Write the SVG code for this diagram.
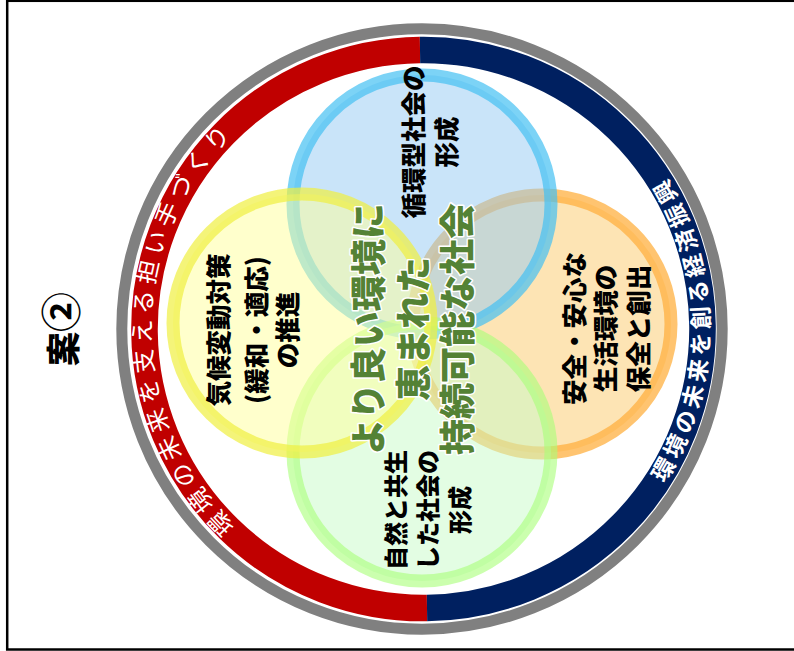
<svg xmlns="http://www.w3.org/2000/svg" width="794" height="651" viewBox="0 0 794 651">
<style>
.t{font-family:"Noto Sans CJK JP","Noto Sans CJK SC",sans-serif;font-weight:900;fill:#000;text-anchor:middle}
.ring{font-family:"Noto Sans CJK JP","Noto Sans CJK SC",sans-serif;fill:#fff}
.main{font-family:"Noto Sans CJK JP","Noto Sans CJK SC",sans-serif;font-weight:900;font-size:36px;fill:#548235;stroke:#fff;stroke-width:3;paint-order:stroke;stroke-linejoin:round;text-anchor:middle}
</style>
<defs>
<path id="redArc" d="M 422 600 A 271 271 0 0 1 422 58"/>
<path id="navyArc" d="M 422 616.5 A 287.5 287.5 0 0 0 422 41.5"/>
</defs>
<rect x="7.2" y="0.8" width="800" height="648.7" fill="#fff" stroke="#000" stroke-width="2.5"/>
<g id="label">
<text class="t" font-size="34" transform="translate(63,329) rotate(-90)" x="0" y="13">案<tspan font-size="40" font-weight="bold">②</tspan></text>
</g>
<g id="outer-ring">
<circle cx="422" cy="329" r="300.2" fill="none" stroke="#808080" stroke-width="11"/>
<path d="M 427 608 A 279 279 0 1 1 420 50" fill="none" stroke="#c00000" stroke-width="26.6"/>
<path d="M 420 50 A 279 279 0 0 1 427 608" fill="none" stroke="#002060" stroke-width="26.6"/>
<text class="ring" font-size="24" letter-spacing="5.4" text-anchor="middle"><textPath href="#redArc" startOffset="50%">環境の未来を支える担い手づくり</textPath></text>
<text class="ring" font-size="23" font-weight="bold" letter-spacing="4.2" text-anchor="middle"><textPath href="#navyArc" startOffset="50%">環境の未来を創る経済振興</textPath></text>
</g>
<g id="circle-orange">
<circle cx="542" cy="324" r="129" fill="#fbc96a" fill-opacity="0.5" stroke="#ffb040" stroke-opacity="0.75" stroke-width="13"/>
</g>
<g id="circle-blue">
<circle cx="422" cy="204" r="129" fill="#93c9f3" fill-opacity="0.5" stroke="#45c0f2" stroke-opacity="0.7" stroke-width="13"/>
</g>
<g id="circle-green">
<circle cx="422" cy="452" r="129" fill="#c7fbc7" fill-opacity="0.5" stroke="#a8ff78" stroke-opacity="0.6" stroke-width="13"/>
</g>
<g id="circle-yellow">
<circle cx="302" cy="323" r="129" fill="#ffff99" fill-opacity="0.5" stroke="#f0f040" stroke-opacity="0.7" stroke-width="13"/>
</g>
<g id="text-blue" class="t" font-size="25.5" transform="translate(413,142) rotate(-90)">
<text x="0" y="9.7">循環型社会の</text>
<text x="0" y="42.7">形成</text>
</g>
<g id="text-yellow" class="t" font-size="25.5" transform="translate(218,330) rotate(-90)">
<text x="0" y="9.7">気候変動対策</text>
<text x="0" y="47.7">(緩和・適応)</text>
<text x="0" y="78.7">の推進</text>
</g>
<g id="text-orange" class="t" font-size="25.5" transform="translate(574,328.5) rotate(-90)">
<text x="0" y="9.7">安全・安心な</text>
<text x="0" y="40.7">生活環境の</text>
<text x="0" y="73.7">保全と創出</text>
</g>
<g id="text-green" class="t" font-size="24" transform="translate(396,510) rotate(-90)">
<text x="0" y="9.1">自然と共生</text>
<text x="0" y="41.1">した社会の</text>
<text x="0" y="73.1">形成</text>
</g>
<g id="center-text" transform="translate(368,329) rotate(-90)">
<text class="main" x="0" y="13.7">より良い環境に</text>
<text class="main" x="0" y="58.7">恵まれた</text>
<text class="main" x="0" y="102.7">持続可能な社会</text>
</g>
</svg>
